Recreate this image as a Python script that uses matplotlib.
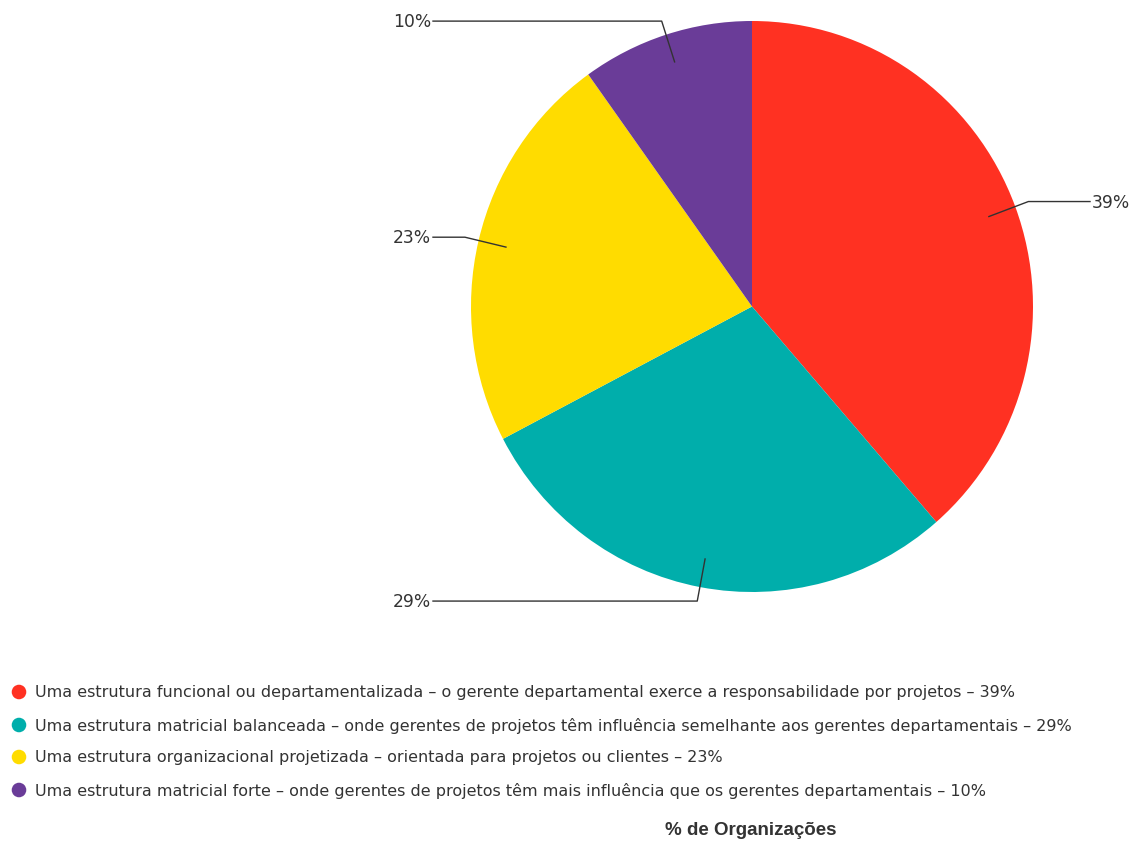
"""
Pie chart: estrutura organizacional (% de Organizações)
"""
import numpy as np
import matplotlib
matplotlib.use('Agg')
import matplotlib.pyplot as plt

# data
categories = [
    'Uma estrutura funcional ou departamentalizada \u2013 o gerente departamental exerce a responsabilidade por projetos',
    'Uma estrutura matricial balanceada \u2013 onde gerentes de projetos t\u00eam influ\u00eancia semelhante aos gerentes departamentais',
    'Uma estrutura organizacional projetizada \u2013 orientada para projetos ou clientes',
    'Uma estrutura matricial forte \u2013 onde gerentes de projetos t\u00eam mais influ\u00eancia que os gerentes departamentais',
]
values = [39, 29, 23, 10]
colors = ['#FF3122', '#00AEAB', '#FFDC00', '#6A3C98']
title = '% de Organiza\u00e7\u00f5es'

W, H = 1134, 845
fig = plt.figure(figsize=(W / 100, H / 100), dpi=100)

# pie axes (pixel box of the pie, slightly taller than wide like the source)
cx, cy, rx, ry = 752, 307.5, 281, 285.5
ax_pie = fig.add_axes([(cx - rx) / W, (H - cy - ry) / H, 2 * rx / W, 2 * ry / H])
wedges, _ = ax_pie.pie(values, colors=colors, startangle=90, counterclock=False,
                       radius=1, wedgeprops=dict(linewidth=0))
ax_pie.set_xlim(-1, 1)
ax_pie.set_ylim(-1, 1)
ax_pie.set_aspect('auto')
ax_pie.axis('off')

text_color = '#333333'
for w, v in zip(wedges, values):
    mid = np.deg2rad((w.theta1 + w.theta2) / 2)
    x0, y0 = 0.9 * np.cos(mid), 0.9 * np.sin(mid)
    x1, y1 = 1.05 * np.cos(mid), 1.05 * np.sin(mid)
    if np.cos(mid) >= 0:
        x2, ha, tx = (1090 - cx) / rx, 'left', (1092 - cx) / rx
    else:
        x2, ha, tx = (433 - cx) / rx, 'right', (431 - cx) / rx
    ax_pie.plot([x0, x1, x2], [y0, y1, y1], color=text_color, lw=1,
                clip_on=False)
    ax_pie.text(tx, y1, f'{v}%', ha=ha, va='center', fontsize=12.3,
                family='DejaVu Sans', color=text_color, clip_on=False)

# legend + title on a full-figure overlay in pixel coordinates
ax = fig.add_axes([0, 0, 1, 1])
ax.set_xlim(0, W)
ax.set_ylim(H, 0)
ax.axis('off')

row_y = [693, 726, 758, 791]
for cat, v, c, yy in zip(categories, values, colors, row_y):
    ax.scatter([19], [yy], s=110, color=c, edgecolors='none')
    ax.text(35, yy, f'{cat} \u2013 {v}%', ha='left', va='center',
            fontsize=11.5, family='DejaVu Sans', color=text_color)

ax.text(751, 831, title, ha='center', va='center', fontsize=13.5,
        fontweight='bold', family='Liberation Sans', color='#333333')

fig.savefig('out.png', dpi=100)
